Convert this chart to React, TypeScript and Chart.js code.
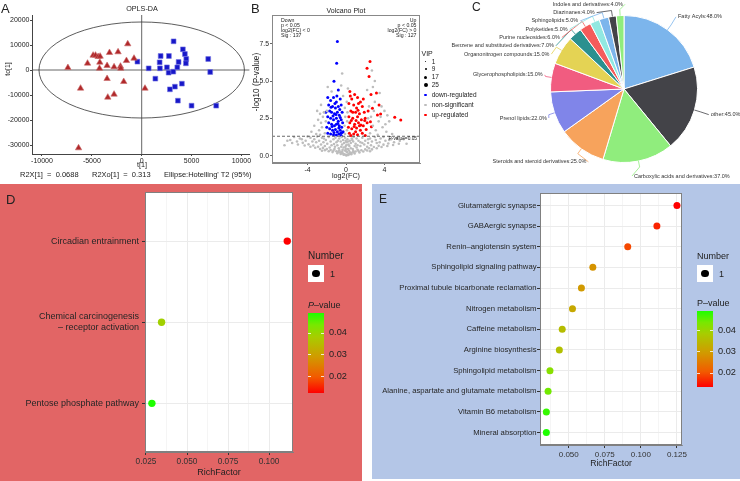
import React, { useEffect, useRef } from "react";
import { Chart, registerables } from "chart.js";
Chart.register(...registerables);

const FONT = "'Liberation Sans', Arial, Helvetica, sans-serif";

// ---------------- Panel A (OPLS-DA) ----------------
const A_GROUP1: [number, number][] = [
  [-7400, 920], [-6130, -7330], [-5430, 2670], [-4870, 5870], [-4630, 5870], [-4370, 5330],
  [-4170, 5470], [-4200, 3070], [-4230, 670], [-3470, 1730], [-3470, -3470], [-3400, -10930],
  [-3230, 6930], [-2770, -9730], [-2770, 1200], [-2370, 7200], [-2130, 1470], [-2100, 670],
  [-1800, -4670], [-1530, 3730], [-1400, 10400], [-770, 4670], [330, -7330], [-6330, -31200],
];
const A_GROUP2: [number, number][] = [
  [-430, 3330], [700, 670], [1370, -3470], [1830, 670], [1800, 3070], [1900, 5600], [2530, 1070],
  [2700, -1070], [2730, 5600], [2830, -7730], [3170, -670], [3200, 11470], [3330, -6670],
  [3570, 1070], [3630, -12270], [3700, 3200], [4030, -5470], [4130, 8270], [4330, 6400],
  [4470, 4400], [4430, 2670], [5000, -14270], [6670, 4400], [6870, -800], [7470, -14270],
];
const A_X_TICKS = [-10000, -5000, 0, 5000, 10000];
const A_Y_TICKS = [-30000, -20000, -10000, 0, 10000, 20000];
const A_X_RANGE = [-11000, 10800];
const A_Y_RANGE = [-33600, 22000];
const A_ELLIPSE = [10300, 19200];
const A_STATS = ["R2X[1]  =  0.0688", "R2Xo[1]  =  0.313", "Ellipse:Hotelling' T2 (95%)"];

// ---------------- Panel B (Volcano) ----------------
const B_GREY: [number, number][] = [
  [0.05, 0.02], [-0.05, 0.05], [0.15, 0.08], [-0.15, 0.1], [0.3, 0.12], [-0.3, 0.14], [0.45, 0.16], [-0.45, 0.18],
  [0.6, 0.2], [-0.6, 0.22], [0.8, 0.24], [-0.8, 0.26], [1.0, 0.28], [-1.0, 0.3], [1.3, 0.32], [-1.3, 0.34],
  [1.6, 0.36], [-1.6, 0.38], [2.0, 0.42], [-2.0, 0.44], [2.4, 0.5], [-2.4, 0.52], [2.9, 0.58], [-2.9, 0.6],
  [3.4, 0.66], [-3.4, 0.68], [3.9, 0.74], [-3.9, 0.76], [4.4, 0.82], [-4.5, 0.86], [5.0, 0.9], [-5.1, 0.95],
  [5.6, 1.0], [-5.8, 1.05], [6.3, 0.8], [-6.4, 0.7],
  [0.1, 0.25], [-0.1, 0.35], [0.2, 0.45], [-0.25, 0.55], [0.35, 0.65], [-0.4, 0.75], [0.5, 0.85], [-0.55, 0.95],
  [0.65, 1.05], [-0.7, 1.15], [0.8, 1.25], [-0.05, 0.6], [0.05, 0.9], [-0.1, 1.2], [0.15, 1.1], [0.3, 0.35],
  [-0.35, 0.4], [0.7, 0.45], [-0.75, 0.5], [1.1, 0.55], [-1.15, 0.6], [1.5, 0.65], [-1.5, 0.7], [1.9, 0.75],
  [-1.95, 0.8], [2.3, 0.85], [-2.35, 0.9], [2.7, 0.95], [-2.8, 1.0], [3.1, 1.05], [-3.3, 1.1], [3.6, 1.15],
  [-3.7, 1.2], [1.0, 0.8], [-1.0, 0.9], [1.3, 1.0], [-1.3, 1.1], [1.7, 1.2], [-1.8, 1.25], [0.5, 0.5],
  [-0.5, 0.6], [0.9, 0.65], [-0.9, 0.7], [1.2, 0.4], [-1.2, 0.45], [2.2, 0.6], [-2.2, 0.65], [2.6, 0.7],
  [-2.6, 0.75], [3.2, 0.85], [-3.1, 0.9], [4.1, 1.0], [-4.2, 1.0], [4.7, 1.1], [-4.8, 1.15], [5.3, 1.2],
  [-5.4, 1.25], [6.0, 1.1], [-6.1, 1.0], [0.4, 1.0], [-0.3, 1.05], [0.6, 1.15], [2.0, 1.0], [-2.1, 1.05],
  [2.5, 1.15], [-2.5, 1.2], [3.0, 1.25], [-3.0, 1.28], [1.5, 0.9], [-1.6, 0.95], [0.25, 0.75], [-0.2, 0.85],
  [0.75, 0.95], [-0.85, 1.0],
  [0.02, 0.3], [-0.02, 0.45], [0.03, 0.7], [-0.03, 1.0], [0.25, 0.05], [-0.25, 0.07], [0.55, 0.1], [-0.55, 0.12],
  [0.9, 0.15], [-0.9, 0.17], [1.4, 0.22], [-1.4, 0.24], [1.8, 0.28], [-1.8, 0.3], [2.2, 0.35], [-2.2, 0.37],
  [2.7, 0.42], [-2.7, 0.45], [3.2, 0.5], [-3.2, 0.53], [3.7, 0.58], [-3.7, 0.6], [4.3, 0.65], [-4.3, 0.68],
  [4.9, 0.72], [-5.0, 0.75], [5.5, 0.8], [-5.6, 0.85], [0.4, 0.22], [-0.4, 0.28], [0.75, 0.32], [-0.7, 0.36],
  [1.2, 0.7], [-1.25, 0.78], [1.7, 0.85], [-1.7, 0.55], [2.5, 0.3], [-2.5, 0.33], [3.5, 0.9], [-3.5, 0.95],
  [4.5, 1.05], [-4.6, 1.1], [1.1, 1.15], [-1.1, 1.2], [2.3, 1.1], [-2.3, 1.15], [0.2, 0.95], [-0.45, 1.25],
  [3.9, 1.25], [-4.0, 1.28],
  [-0.1, 1.45], [0.1, 1.7], [-0.15, 2.0], [0.12, 2.3], [-0.08, 2.6], [0.15, 2.9], [-0.12, 3.2], [0.08, 3.6],
  [-2.2, 1.5], [-2.5, 1.9], [-2.1, 2.3], [-2.8, 1.7], [-3.1, 1.45], [-2.4, 2.6], [-2.0, 3.0], [-1.5, 4.3],
  [-0.4, 5.5], [-0.5, 4.7], [-3.6, 1.6], [-2.3, 2.9], [-2.6, 2.2], [-3.3, 2.0], [2.5, 1.5], [2.8, 2.0],
  [3.1, 1.7], [2.6, 2.6], [3.4, 2.3], [2.4, 3.3], [3.0, 3.6], [3.8, 1.9], [4.2, 1.6], [4.5, 2.3],
  [2.2, 4.4], [3.0, 5.0], [2.7, 5.7], [4.8, 1.45], [2.9, 3.0], [3.6, 2.6], [4.0, 3.0], [2.3, 2.5],
  [-0.3, 4.0], [0.2, 4.5], [-2.7, 1.4], [3.3, 1.4],
  [-2.9, 2.4], [-3.0, 3.0], [-2.6, 3.4], [3.7, 3.3], [4.3, 2.7], [3.5, 4.2], [-1.9, 4.6], [-2.7, 2.8],
  [2.8, 4.6], [4.1, 2.1],
];
const B_DOWN: [number, number][] = [
  [-0.9, 7.64], [-0.97, 6.19], [-1.25, 4.98], [-0.8, 4.4], [-1.9, 3.9], [-1.6, 3.7], [-1.3, 3.9], [-1.0, 3.6],
  [-0.6, 3.8], [-1.8, 3.4], [-1.4, 3.3], [-1.1, 3.2], [-0.8, 3.3], [-0.5, 3.4], [-1.7, 3.0], [-1.5, 2.9],
  [-1.2, 2.8], [-0.9, 2.9], [-0.7, 2.7], [-0.4, 2.9], [-1.9, 2.6], [-1.6, 2.5], [-1.3, 2.4], [-1.0, 2.5],
  [-0.8, 2.3], [-0.5, 2.4], [-0.35, 2.2], [-1.8, 2.2], [-1.5, 2.1], [-1.2, 2.0], [-1.0, 2.1], [-0.7, 2.0],
  [-0.45, 1.9], [-1.7, 1.8], [-1.4, 1.7], [-1.1, 1.75], [-0.9, 1.6], [-0.6, 1.7], [-0.4, 1.55], [-1.9, 1.5],
  [-1.6, 1.45], [-1.3, 1.4], [-1.0, 1.38], [-0.75, 1.45], [-0.5, 1.35], [-2.0, 1.9], [-1.15, 3.5], [-0.65, 3.1],
  [-1.35, 2.65], [-0.85, 2.15], [-0.55, 1.5], [-1.25, 1.55], [-2.1, 2.9], [-1.55, 3.25], [-0.95, 4.0], [-0.3, 1.6],
  [-0.75, 1.85], [-1.45, 1.95], [-1.05, 2.75], [-0.6, 2.55],
];
const B_UP: [number, number][] = [
  [2.19, 5.85], [2.4, 5.3], [2.5, 6.3], [3.17, 4.2], [3.44, 3.4], [2.75, 3.17], [3.6, 2.79], [3.27, 2.73],
  [5.07, 2.57], [5.7, 2.39], [2.54, 2.28], [2.64, 1.94], [0.4, 4.3], [0.9, 4.1], [0.6, 3.8], [1.2, 3.9],
  [1.5, 3.6], [0.3, 3.5], [0.8, 3.4], [1.1, 3.2], [1.7, 3.3], [0.5, 3.0], [1.0, 2.9], [1.4, 2.8],
  [1.9, 2.9], [0.3, 2.6], [0.7, 2.5], [1.2, 2.6], [1.6, 2.4], [2.0, 2.5], [0.4, 2.2], [0.9, 2.1],
  [1.3, 2.2], [1.8, 2.0], [0.25, 1.9], [0.6, 1.8], [1.1, 1.85], [1.5, 1.7], [2.1, 1.75], [0.35, 1.5],
  [0.8, 1.45], [1.2, 1.4], [1.7, 1.5], [2.0, 1.35], [0.5, 1.35], [1.0, 1.6], [1.4, 2.0], [0.7, 2.9],
  [1.3, 3.5], [2.3, 3.0], [1.8, 3.8], [2.6, 4.1], [0.55, 2.35], [1.05, 2.35], [1.55, 2.05], [0.85, 1.95],
  [1.95, 2.35], [1.25, 3.05], [0.45, 4.0], [2.2, 2.2],
];
const B_X_TICKS = [-4, 0, 4];
const B_Y_TICKS = [0, 2.5, 5, 7.5];
const B_X_RANGE = [-7.7, 7.7];
const B_Y_RANGE = [-0.49, 9.42];
const B_P_LINE = 1.301;
const B_DOWN_TEXT = ["Down", "p < 0.05", "log2(FC) < 0", "Sig : 137"];
const B_UP_TEXT = ["Up", "p < 0.05", "log2(FC) > 0", "Sig : 127"];
const B_VIP = ["1", "9", "17", "25"];
const B_GROUPS = ["down-regulated", "non-significant", "up-regulated"];

// ---------------- Panel C (Pie) ----------------
const PIE_LABELS = [
  "Fatty Acyls", "other", "Carboxylic acids and derivatives", "Steroids and steroid derivatives",
  "Prenol lipids", "Glycerophospholipids", "Organonitrogen compounds", "Benzene and substituted derivatives",
  "Purine nucleosides", "Polyketides", "Sphingolipids", "Diazinanes", "Indoles and derivatives",
];
const PIE_VALUES = [48, 45, 37, 25, 22, 15, 15, 7, 6, 5, 5, 4, 4];
const PIE_COLORS = [
  "#7cb5ec", "#434348", "#90ed7d", "#f7a35c", "#8085e9", "#f15c80", "#e4d354",
  "#2b908f", "#f45b5b", "#91e8e1", "#7cb5ec", "#434348", "#90ed7d",
];

// ---------------- Panel D ----------------
const D_PATHWAYS = ["Circadian entrainment", "Chemical carcinogenesis\n– receptor activation", "Pentose phosphate pathway"];
const D_RICH = [0.1111, 0.0345, 0.0286];
const D_PVAL = [0.0127, 0.039, 0.0491];
const D_P_RANGE = [0.0127, 0.0491];
const D_X_MAJOR = [0.025, 0.05, 0.075, 0.1];
const D_X_MINOR = [0.0375, 0.0625, 0.0875];
const D_X_RANGE = [0.0244, 0.1146];

// ---------------- Panel E ----------------
const E_PATHWAYS = [
  "Glutamatergic synapse", "GABAergic synapse", "Renin–angiotensin system", "Sphingolipid signaling pathway",
  "Proximal tubule bicarbonate reclamation", "Nitrogen metabolism", "Caffeine metabolism", "Arginine biosynthesis",
  "Sphingolipid metabolism", "Alanine, aspartate and glutamate metabolism", "Vitamin B6 metabolism", "Mineral absorption",
];
const E_RICH = [0.125, 0.1111, 0.0909, 0.0667, 0.0588, 0.0526, 0.0455, 0.0435, 0.037, 0.0357, 0.0345, 0.0345];
const E_PVAL = [0.0136, 0.0164, 0.0193, 0.0286, 0.0296, 0.0321, 0.0357, 0.0364, 0.0421, 0.0442, 0.0478, 0.0492];
const E_P_RANGE = [0.0136, 0.0492];
const E_X_MAJOR = [0.05, 0.075, 0.1, 0.125];
const E_X_MINOR = [0.0375, 0.0625, 0.0875, 0.1125];
const E_X_RANGE = [0.0301, 0.1285];

const P_TICKS = [0.02, 0.03, 0.04];
const NUMBER_KEY = ["1"];

// gradient red -> green (low p -> high p)
const GRAD: [number, number[]][] = [
  [0, [255, 0, 0]], [0.2, [242, 90, 0]], [0.45, [209, 154, 0]], [0.7, [168, 204, 0]], [0.85, [120, 232, 0]], [1, [30, 255, 0]],
];
function gradColor(t: number) {
  t = Math.max(0, Math.min(1, t));
  for (let i = 1; i < GRAD.length; i++) {
    if (t <= GRAD[i][0]) {
      const [t0, c0] = GRAD[i - 1];
      const [t1, c1] = GRAD[i];
      const f = (t - t0) / (t1 - t0);
      const c = c0.map((v, k) => Math.round(v + (c1[k] - v) * f));
      return `rgb(${c[0]},${c[1]},${c[2]})`;
    }
  }
  return "rgb(30,255,0)";
}
const CSS_GRAD = `linear-gradient(to top, ${GRAD.map(([t, c]) => `rgb(${c.join(",")}) ${t * 100}%`).join(", ")})`;

const setTicks = (vals: number[]) => (s: any) => { s.ticks = vals.map((v) => ({ value: v })); };
const fixW = (w: number) => (s: any) => { s.width = w; };
const fixH = (h: number) => (s: any) => { s.height = h; };
const font = (size: number) => ({ family: FONT, size });

const framePlugin = (color: string) => ({
  id: "frame",
  afterDatasetsDraw(chart: any) {
    const { ctx, chartArea: a } = chart;
    ctx.save();
    ctx.strokeStyle = color;
    ctx.lineWidth = 1;
    ctx.strokeRect(Math.round(a.left) + 0.5, Math.round(a.top) + 0.5, Math.round(a.right - a.left) - 1, Math.round(a.bottom - a.top) - 1);
    ctx.restore();
  },
});
const whitePanel = {
  id: "whitePanel",
  beforeDraw(chart: any) {
    const { ctx, chartArea: a } = chart;
    ctx.save();
    ctx.fillStyle = "#ffffff";
    ctx.fillRect(a.left, a.top, a.right - a.left, a.bottom - a.top);
    ctx.restore();
  },
};

const baseOpts = (padding: any) => ({
  responsive: false,
  animation: false,
  devicePixelRatio: 1,
  layout: { padding },
  plugins: { legend: { display: false }, tooltip: { enabled: false } },
});

// ---- A
const crossEllipse = {
  id: "crossEllipse",
  beforeDatasetsDraw(chart: any) {
    const { ctx, chartArea: a, scales } = chart;
    const x0 = scales.x.getPixelForValue(0);
    const y0 = scales.y.getPixelForValue(0);
    ctx.save();
    ctx.strokeStyle = "#555";
    ctx.lineWidth = 0.9;
    ctx.beginPath();
    ctx.moveTo(x0, a.top); ctx.lineTo(x0, a.bottom);
    ctx.moveTo(a.left, y0); ctx.lineTo(a.right, y0);
    ctx.stroke();
    const rx = scales.x.getPixelForValue(A_ELLIPSE[0]) - x0;
    const ry = y0 - scales.y.getPixelForValue(A_ELLIPSE[1]);
    ctx.strokeStyle = "#333";
    ctx.lineWidth = 0.8;
    ctx.beginPath();
    ctx.ellipse(x0, y0, rx, ry, 0, 0, Math.PI * 2);
    ctx.stroke();
    ctx.restore();
  },
};
const makeA = () => ({
  type: "scatter",
  data: {
    datasets: [
      { data: A_GROUP1.map(([x, y]) => ({ x, y })), pointStyle: "triangle", pointRadius: 3.7, backgroundColor: "#B0282A", borderColor: "#C96A6A", borderWidth: 0.6 },
      { data: A_GROUP2.map(([x, y]) => ({ x, y })), pointStyle: "rect", pointRadius: 3.4, backgroundColor: "#1717C8", borderColor: "#7676E2", borderWidth: 0.6 },
    ],
  },
  options: {
    ...baseOpts({ top: 15, right: 4, left: 0, bottom: 0 }),
    scales: {
      x: {
        type: "linear", min: A_X_RANGE[0], max: A_X_RANGE[1], afterBuildTicks: setTicks(A_X_TICKS), afterFit: fixH(16),
        ticks: { font: font(7), color: "#222", padding: 1, maxRotation: 0, autoSkip: false, callback: (v: number) => String(v) },
        grid: { drawOnChartArea: false, tickLength: 2, color: "#444" }, border: { color: "#444" },
      },
      y: {
        type: "linear", min: A_Y_RANGE[0], max: A_Y_RANGE[1], afterBuildTicks: setTicks(A_Y_TICKS), afterFit: fixW(32),
        ticks: { font: font(7), color: "#222", padding: 0.5, autoSkip: false, callback: (v: number) => String(v) },
        grid: { drawOnChartArea: false, tickLength: 2, color: "#444" }, border: { color: "#444" },
      },
    },
  },
  plugins: [crossEllipse],
});

// ---- B
const pLine = {
  id: "pLine",
  afterDatasetsDraw(chart: any) {
    const { ctx, chartArea: a, scales } = chart;
    const y = scales.y.getPixelForValue(B_P_LINE);
    ctx.save();
    ctx.strokeStyle = "#444";
    ctx.lineWidth = 0.8;
    ctx.setLineDash([3, 2]);
    ctx.beginPath();
    ctx.moveTo(a.left, y); ctx.lineTo(a.right, y);
    ctx.stroke();
    ctx.restore();
  },
};
const makeB = () => ({
  type: "scatter",
  data: {
    datasets: [
      { data: B_GREY.map(([x, y]) => ({ x, y })), pointRadius: 1.3, backgroundColor: "#BDBDBD", borderWidth: 0 },
      { data: B_DOWN.map(([x, y]) => ({ x, y })), pointRadius: 1.5, backgroundColor: "#0000FF", borderWidth: 0 },
      { data: B_UP.map(([x, y]) => ({ x, y })), pointRadius: 1.5, backgroundColor: "#FF0000", borderWidth: 0 },
    ],
  },
  options: {
    ...baseOpts({ top: 15, right: 4, left: 0, bottom: 0 }),
    scales: {
      x: {
        type: "linear", min: B_X_RANGE[0], max: B_X_RANGE[1], afterBuildTicks: setTicks(B_X_TICKS), afterFit: fixH(22),
        ticks: { font: font(7), color: "#222", padding: 0.5, maxRotation: 0, autoSkip: false, callback: (v: number) => String(v) },
        grid: { drawOnChartArea: false, tickLength: 2, color: "#666" }, border: { color: "#888" },
      },
      y: {
        type: "linear", min: B_Y_RANGE[0], max: B_Y_RANGE[1], afterBuildTicks: setTicks(B_Y_TICKS), afterFit: fixW(22),
        ticks: { font: font(6.8), color: "#222", padding: 1, autoSkip: false, callback: (v: number) => v.toFixed(1) },
        grid: { drawOnChartArea: false, tickLength: 2, color: "#666" }, border: { color: "#888" },
      },
    },
  },
  plugins: [pLine, framePlugin("#888")],
});

// ---- C
const pieLabels = {
  id: "pieLabels",
  afterDatasetsDraw(chart: any) {
    const meta = chart.getDatasetMeta(0);
    const ctx = chart.ctx;
    const items = meta.data.map((arc: any, i: number) => {
      const p = arc.getProps(["x", "y", "startAngle", "endAngle", "outerRadius"], true);
      const mid = (p.startAngle + p.endAngle) / 2;
      const r = p.outerRadius;
      return { i, cx: p.x, cy: p.y, r, mid, right: Math.cos(mid) >= 0, y: p.y + (r + 16) * Math.sin(mid), x: 0 };
    });
    const left = items.filter((o: any) => !o.right).sort((a: any, b: any) => a.y - b.y);
    let prev = -Infinity;
    left.forEach((o: any) => {
      o.y = Math.max(o.y, 4.3, prev + 8.3);
      prev = o.y;
      const R = o.r + 8;
      const dy = o.y - o.cy;
      o.x = o.cx - Math.sqrt(Math.max(0, R * R - dy * dy));
    });
    items.filter((o: any) => o.right).forEach((o: any) => {
      o.y = Math.min(o.y, 176);
      const R = o.r + 16;
      const dy = o.y - o.cy;
      o.x = o.cx + Math.sqrt(Math.max(0, R * R - dy * dy));
      if (o.y > o.cy + o.r) o.x -= 12;
    });
    ctx.save();
    ctx.font = `5.5px ${FONT}`;
    ctx.textBaseline = "middle";
    items.forEach((o: any) => {
      const ex = o.cx + o.r * Math.cos(o.mid), ey = o.cy + o.r * Math.sin(o.mid);
      const mx = o.cx + (o.r + 6) * Math.cos(o.mid), my = o.cy + (o.r + 6) * Math.sin(o.mid);
      ctx.strokeStyle = PIE_COLORS[o.i];
      ctx.lineWidth = 0.8;
      ctx.beginPath();
      ctx.moveTo(ex, ey); ctx.lineTo(mx, my);
      ctx.lineTo(o.right ? o.x - 1 : o.x + 1, o.y);
      ctx.stroke();
      ctx.fillStyle = "#333";
      ctx.textAlign = o.right ? "left" : "right";
      const label = `${PIE_LABELS[o.i]}:${PIE_VALUES[o.i].toFixed(1)}%`;
      ctx.fillText(label, o.right ? o.x + 1 : o.x - 1, o.y);
    });
    ctx.restore();
  },
};
const makeC = () => ({
  type: "pie",
  data: { labels: PIE_LABELS, datasets: [{ data: PIE_VALUES, backgroundColor: PIE_COLORS, borderColor: "#ffffff", borderWidth: 1, hoverOffset: 0 }] },
  options: { ...baseOpts({ left: 120, right: 42, top: 15, bottom: 20 }) },
  plugins: [pieLabels],
});

// ---- D / E
function makeEnrich(cfg: any) {
  const isMinor = (v: number) => cfg.minor.some((m: number) => Math.abs(m - v) < 1e-9);
  const n = cfg.labels.length;
  return () => ({
    type: "scatter",
    data: {
      datasets: [{
        data: cfg.rich.map((x: number, i: number) => ({ x, y: i })),
        pointRadius: cfg.radius,
        backgroundColor: cfg.pvals.map((p: number) => gradColor((p - cfg.prange[0]) / (cfg.prange[1] - cfg.prange[0]))),
        borderWidth: 0,
      }],
    },
    options: {
      ...baseOpts({ top: cfg.padTop, right: cfg.padRight, left: 0, bottom: 0 }),
      scales: {
        x: {
          type: "linear", min: cfg.xRange[0], max: cfg.xRange[1],
          afterBuildTicks: setTicks([...cfg.major, ...cfg.minor].sort((a, b) => a - b)), afterFit: fixH(cfg.xHeight),
          ticks: { font: font(cfg.xFont), color: "#333", padding: 1.5, maxRotation: 0, autoSkip: false, callback: (v: number) => (isMinor(v) ? "" : v.toFixed(3)) },
          grid: {
            color: "#EBEBEB", tickLength: 3,
            lineWidth: (c: any) => (c.tick && isMinor(c.tick.value) ? 0.5 : 1),
            tickColor: (c: any) => (c.tick && isMinor(c.tick.value) ? "rgba(0,0,0,0)" : "#333"),
          },
          border: { color: "#808080" },
        },
        y: {
          type: "linear", min: -0.6, max: n - 0.4, reverse: true,
          afterBuildTicks: setTicks(cfg.labels.map((_: any, i: number) => i)), afterFit: fixW(cfg.yWidth),
          ticks: { font: font(cfg.yFont), color: "#262626", padding: cfg.yPad, autoSkip: false, callback: (v: number) => cfg.labels[v].split("\n") },
          grid: { color: "#EBEBEB", tickColor: "#333", tickLength: 3 },
          border: { color: "#808080" },
        },
      },
    },
    plugins: [whitePanel, framePlugin("#808080")],
  });
}
const makeD = makeEnrich({
  labels: D_PATHWAYS, rich: D_RICH, pvals: D_PVAL, prange: D_P_RANGE, xRange: D_X_RANGE, major: D_X_MAJOR, minor: D_X_MINOR,
  yWidth: 145, xHeight: 29, padTop: 7, padRight: 69, radius: 3.7, yFont: 9, xFont: 8.3, yPad: 3,
});
const makeE = makeEnrich({
  labels: E_PATHWAYS, rich: E_RICH, pvals: E_PVAL, prange: E_P_RANGE, xRange: E_X_RANGE, major: E_X_MAJOR, minor: E_X_MINOR,
  yWidth: 168, xHeight: 34, padTop: 9, padRight: 58, radius: 3.5, yFont: 7.7, xFont: 8, yPad: 0.5,
});

// ---------------- components ----------------
function ChartBox({ x, y, w, h, make }: any) {
  const ref = useRef<HTMLCanvasElement>(null);
  useEffect(() => {
    const chart = new Chart(ref.current as HTMLCanvasElement, make());
    return () => chart.destroy();
  }, []);
  return (
    <div style={{ position: "absolute", left: x, top: y, width: w, height: h }}>
      <canvas ref={ref} width={w} height={h} style={{ display: "block", width: w, height: h }} />
    </div>
  );
}

function T({ x, y, s, a = "l", c = "#222", rot = 0, children, style }: any) {
  const tx = a === "c" ? "-50%" : a === "r" ? "-100%" : "0%";
  return (
    <div
      style={{
        position: "absolute", left: x, top: y, fontFamily: FONT, fontSize: s, lineHeight: 1, color: c,
        whiteSpace: "pre", transform: `translate(${tx},-50%)` + (rot ? ` rotate(${rot}deg)` : ""), ...style,
      }}
    >
      {children}
    </div>
  );
}
function Dot({ x, y, r, c }: any) {
  return <div style={{ position: "absolute", left: x - r, top: y - r, width: 2 * r, height: 2 * r, borderRadius: "50%", background: c }} />;
}

function Legend({ x, yNum, barTop, barBottom, prange, italicP, numSize }: any) {
  const barH = barBottom - barTop;
  const posOf = (p: number) => barBottom - ((p - prange[0]) / (prange[1] - prange[0])) * barH;
  return (
    <>
      <T x={x} y={yNum} s={numSize}>Number</T>
      <div style={{ position: "absolute", left: x, top: yNum + 9, width: 16, height: 17, background: "#fff" }} />
      <Dot x={x + 8} y={yNum + 17.5} r={3.6} c="#000" />
      <T x={x + 22} y={yNum + 17.5} s={9}>{NUMBER_KEY[0]}</T>
      <T x={x} y={barTop - 8} s={9}>
        {italicP ? <i>P</i> : "P"}–value
      </T>
      <div style={{ position: "absolute", left: x, top: barTop, width: 16, height: barH, background: CSS_GRAD }} />
      {P_TICKS.map((p) => (
        <React.Fragment key={p}>
          <div style={{ position: "absolute", left: x, top: posOf(p) - 0.5, width: 3, height: 1, background: "rgba(255,255,255,0.8)" }} />
          <div style={{ position: "absolute", left: x + 13, top: posOf(p) - 0.5, width: 3, height: 1, background: "rgba(255,255,255,0.8)" }} />
          <T x={x + 21} y={posOf(p)} s={9.2} c="#222">{p.toFixed(2)}</T>
        </React.Fragment>
      ))}
    </>
  );
}

export default function App() {
  const legendY = [61.7, 69.3, 77, 85];
  const vipR = [0.8, 1.2, 1.5, 1.9];
  const groupColors = ["#0000FF", "#BDBDBD", "#FF0000"];
  const groupY = [94.8, 105, 115];
  return (
    <div style={{ position: "fixed", left: 0, top: 0, width: 740, height: 481, background: "#fff", overflow: "hidden" }}>
      <div style={{ position: "absolute", left: 0, top: 184, width: 362, height: 297, background: "#E26565" }} />
      <div style={{ position: "absolute", left: 372, top: 184, width: 368, height: 295, background: "#B4C6E7" }} />

      <ChartBox x={0} y={0} w={254} h={170} make={makeA} />
      <ChartBox x={250} y={0} w={174} h={185} make={makeB} />
      <ChartBox x={430} y={0} w={310} h={183} make={makeC} />
      <ChartBox x={0} y={184} w={362} h={297} make={makeD} />
      <ChartBox x={372} y={184} w={368} h={295} make={makeE} />

      {/* A texts */}
      <T x={1} y={8} s={13}>A</T>
      <T x={142} y={9} s={7.2} a="c">OPLS-DA</T>
      <T x={7} y={69} s={7} a="c" rot={-90}>to[1]</T>
      <T x={142} y={165} s={7.2} a="c">t[1]</T>
      <T x={20} y={174.5} s={7.5}>{A_STATS[0]}</T>
      <T x={92} y={174.5} s={7.5}>{A_STATS[1]}</T>
      <T x={164} y={174.5} s={7.5}>{A_STATS[2]}</T>

      {/* B texts */}
      <T x={251} y={8} s={13}>B</T>
      <T x={346} y={10} s={7} a="c">Volcano Plot</T>
      <T x={256.5} y={82} s={8.2} a="c" rot={-90}>-log10 (P-value)</T>
      <T x={346} y={175.5} s={7.2} a="c">log2(FC)</T>
      {B_DOWN_TEXT.map((t, i) => (
        <T key={t} x={281} y={20.7 + i * 5.2} s={5.2}>{t}</T>
      ))}
      {B_UP_TEXT.map((t, i) => (
        <T key={t} x={416.5} y={20.7 + i * 5.2} s={5.2} a="r">{t}</T>
      ))}
      <T x={417} y={139.3} s={4.8} a="r">P-value=0.05</T>
      <T x={421.5} y={52.7} s={7}>VIP</T>
      {B_VIP.map((v, i) => (
        <React.Fragment key={v}>
          <Dot x={425.7} y={legendY[i]} r={vipR[i]} c="#000" />
          <T x={431.7} y={legendY[i]} s={6.5}>{v}</T>
        </React.Fragment>
      ))}
      {B_GROUPS.map((g, i) => (
        <React.Fragment key={g}>
          <Dot x={425.7} y={groupY[i]} r={1.3} c={groupColors[i]} />
          <T x={431.7} y={groupY[i]} s={6.5}>{g}</T>
        </React.Fragment>
      ))}

      {/* C */}
      <T x={472} y={7} s={12}>C</T>

      {/* D */}
      <T x={6} y={198.5} s={13}>D</T>
      <T x={219} y={472} s={9} a="c">RichFactor</T>
      <Legend x={308} yNum={256} barTop={313} barBottom={393} prange={D_P_RANGE} italicP numSize={10} />

      {/* E */}
      <T x={379} y={199} s={12}>E</T>
      <T x={611} y={463} s={8.6} a="c">RichFactor</T>
      <Legend x={697} yNum={256} barTop={311} barBottom={387} prange={E_P_RANGE} numSize={9} />
    </div>
  );
}
